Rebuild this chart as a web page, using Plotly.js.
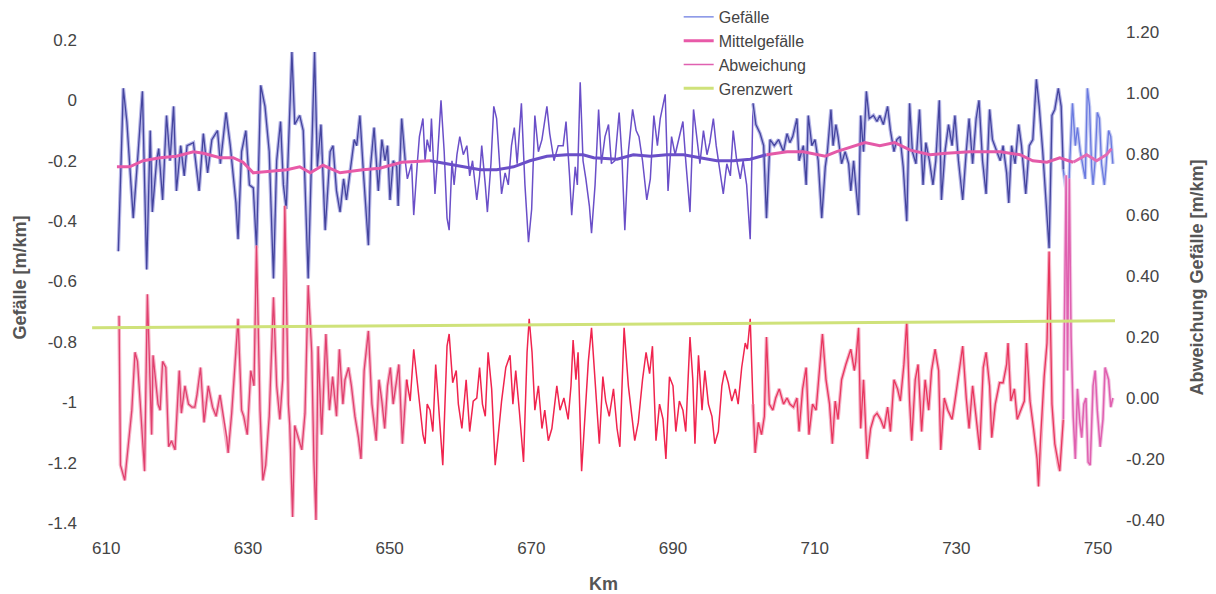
<!DOCTYPE html>
<html>
<head>
<meta charset="utf-8">
<script src="https://cdn.plot.ly/plotly-3.0.1.min.js"></script>
<style>
  html, body { margin: 0; padding: 0; background: #ffffff; }
  #chart { width: 1216px; height: 594px; }
</style>
</head>
<body>
<div id="chart"></div>
<script>
// ---------------- DATA ----------------
const xTicks = [610, 630, 650, 670, 690, 710, 730, 750];
const xTickText = ['610', '630', '650', '670', '690', '710', '730', '750'];
const yLeftTicks = [0.2, 0, -0.2, -0.4, -0.6, -0.8, -1, -1.2, -1.4];
const yLeftText = ['0.2', '0', '-0.2', '-0.4', '-0.6', '-0.8', '-1', '-1.2', '-1.4'];
const yRightTicks = [1.2, 1.0, 0.8, 0.6, 0.4, 0.2, 0.0, -0.2, -0.4];
const yRightText = ['1.20', '1.00', '0.80', '0.60', '0.40', '0.20', '0.00', '-0.20', '-0.40'];

// Gefälle [m/km] (left axis)
const kmGefaelle = [
611.7,612.4,612.9,613.3,613.8,614.5,615.1,615.7,616.2,616.5,617.1,617.4,617.95,618.5,619.0,619.5,619.9,620.5,621.0,621.4,
622.3,623.1,623.7,624.3,624.9,625.7,626.1,626.9,627.5,628.3,628.6,629.1,629.7,630.2,630.75,631.2,631.8,632.4,633.0,633.6,
634.05,634.6,635.0,635.4,635.8,636.2,636.6,637.3,637.8,638.5,639.0,639.4,639.8,640.3,640.9,641.6,642.0,642.5,643.0,643.5,
643.9,644.5,645.0,645.35,645.8,646.3,646.8,647.0,647.3,647.8,648.4,648.9,649.35,649.7,650.05,650.5,651.0,651.2,651.7,652.2,
652.5,653.1,653.4,653.9,654.2,654.7,655.0,655.3,655.7,655.9,656.4,656.7,657.25,657.7,658.1,658.4,658.8,659.1,659.5,659.9,
660.4,660.9,661.3,661.7,662.3,662.7,663.0,663.5,663.8,664.3,664.7,665.1,665.5,665.8,666.3,666.75,667.2,667.6,668.0,668.6,
669.1,669.6,670.05,670.5,671.0,671.5,672.2,672.6,673.2,673.8,674.5,674.9,675.4,675.7,676.2,676.5,676.9,677.3,677.7,678.2,
678.5,679.0,679.5,679.9,680.4,680.9,681.3,681.8,682.4,682.8,683.2,683.7,684.3,684.8,685.2,685.7,686.3,686.8,687.3,687.8,
688.2,688.9,689.3,689.8,690.3,690.8,691.4,691.8,692.4,692.9,693.4,693.8,694.3,694.8,695.2,695.7,696.1,696.4,697.1,697.6,
698.1,698.5,699.0,699.5,699.9,700.4,700.9,701.3,701.7,702.3,702.8,703.2,703.7,704.3,704.9,705.6,706.1,706.5,706.9,707.5,
707.8,708.4,708.8,709.1,709.6,710.05,710.5,711.0,711.5,711.8,712.3,712.6,713.0,713.3,713.8,714.3,714.8,715.1,715.5,715.8,
716.2,716.5,716.9,717.3,717.7,718.3,718.8,719.2,719.7,720.3,720.7,721.2,721.6,722.05,722.5,723.0,723.4,723.8,724.3,724.8,
725.3,725.7,726.2,726.7,727.1,727.6,727.9,728.4,728.9,729.4,729.8,730.3,730.9,731.4,731.8,732.3,732.8,733.2,733.7,734.2,
734.7,735.1,735.7,736.2,736.6,737.1,737.4,737.8,738.3,738.8,739.2,739.8,740.3,740.8,741.3,741.7,742.2,742.7,743.1,743.5,
743.9,744.4,744.8,745.1,745.5,745.8,746.0,746.4,746.8,747.1,747.5,747.9,748.2,748.5,748.8,749.1,749.3,749.6,749.9,750.2,
750.5,750.9,751.1,751.5,751.8,752.1];
const gefaelle = [
-0.50,0.04,-0.07,-0.20,-0.39,-0.17,0.03,-0.56,-0.10,-0.37,-0.20,-0.16,-0.33,-0.05,-0.20,-0.02,-0.30,-0.15,-0.25,-0.15,
-0.14,-0.30,-0.11,-0.24,-0.13,-0.10,-0.21,-0.04,-0.15,-0.34,-0.46,-0.17,-0.10,-0.28,-0.29,-0.49,0.05,-0.02,-0.17,-0.59,
-0.20,-0.07,-0.28,-0.36,-0.08,0.16,-0.08,-0.05,-0.10,-0.59,-0.17,0.16,-0.22,-0.08,-0.43,-0.17,-0.15,-0.30,-0.37,-0.26,
-0.33,-0.21,-0.13,-0.15,-0.05,-0.24,-0.40,-0.48,-0.22,-0.09,-0.30,-0.13,-0.20,-0.15,-0.33,-0.20,-0.22,-0.35,-0.06,-0.20,
-0.26,-0.21,-0.38,-0.21,-0.12,-0.06,-0.20,-0.13,-0.17,-0.06,-0.31,-0.21,0.00,-0.17,-0.39,-0.43,-0.20,-0.28,-0.18,-0.12,
-0.18,-0.15,-0.25,-0.20,-0.33,-0.25,-0.15,-0.28,-0.37,-0.21,-0.02,-0.06,-0.21,-0.31,-0.24,-0.28,-0.15,-0.09,-0.21,-0.01,
-0.28,-0.47,-0.36,-0.05,-0.17,-0.13,-0.02,-0.11,-0.20,-0.15,-0.15,-0.07,-0.25,-0.38,-0.22,-0.28,0.06,-0.20,-0.26,-0.35,
-0.44,-0.28,-0.03,-0.21,-0.12,-0.08,-0.21,-0.20,-0.04,-0.19,-0.43,-0.17,-0.03,-0.10,-0.12,-0.20,-0.33,-0.26,-0.05,-0.15,
-0.06,0.02,-0.30,-0.12,-0.18,-0.13,-0.07,-0.20,-0.37,-0.03,-0.13,-0.21,-0.10,-0.18,-0.14,-0.06,-0.15,-0.20,-0.31,-0.21,
-0.25,-0.10,-0.20,-0.26,-0.20,-0.28,-0.46,-0.01,-0.08,-0.11,-0.15,-0.39,-0.13,-0.15,-0.13,-0.17,-0.11,-0.14,-0.12,-0.06,
-0.20,-0.15,-0.28,-0.05,-0.15,-0.13,-0.20,-0.39,-0.22,-0.17,-0.03,-0.15,-0.08,-0.12,-0.21,-0.17,-0.21,-0.30,-0.20,-0.28,
-0.38,-0.05,-0.17,0.03,-0.06,-0.05,-0.07,-0.05,-0.08,-0.02,-0.10,-0.17,-0.13,-0.12,-0.22,-0.40,-0.01,-0.17,-0.21,-0.03,
-0.28,-0.14,-0.20,-0.28,-0.20,0.00,-0.33,-0.17,-0.08,-0.15,-0.05,-0.20,-0.33,-0.17,-0.06,-0.21,-0.06,0.00,-0.20,-0.31,
-0.03,-0.13,-0.17,-0.20,-0.15,-0.24,-0.34,-0.15,-0.21,-0.08,-0.15,-0.31,-0.15,-0.13,0.07,-0.02,-0.17,-0.35,-0.49,-0.05,
-0.03,0.04,-0.02,-0.23,-0.30,-0.35,-0.21,-0.01,-0.15,-0.09,-0.17,-0.22,-0.26,0.04,-0.02,-0.22,-0.28,-0.20,-0.04,-0.06,
-0.21,-0.28,-0.23,-0.10,-0.12,-0.21];

// Mittelgefälle [m/km] (left axis)
const kmMittel = [611.5,613.3,615.2,617.6,619.9,622.3,623.7,626.05,627.9,629.3,630.75,633.1,635.5,637.3,638.8,640.6,643.0,646.2,648.6,651.7,
655.7,658.1,660.4,662.8,665.1,667.5,669.8,672.2,675.0,677.3,678.8,682.1,684.4,686.8,689.1,691.5,693.8,696.2,698.5,700.9,
703.2,705.1,706.1,708.4,711.5,713.1,715.0,717.1,719.2,721.3,723.5,726.3,728.6,731.9,736.2,739.0,740.8,742.8,744.6,746.5,
748.4,749.8,751.2,751.9];
const mittelgefaelle = [-0.22,-0.22,-0.20,-0.19,-0.185,-0.17,-0.175,-0.19,-0.19,-0.205,-0.24,-0.235,-0.23,-0.22,-0.24,-0.215,-0.24,-0.23,-0.225,-0.205,
-0.20,-0.21,-0.22,-0.23,-0.23,-0.22,-0.20,-0.185,-0.18,-0.18,-0.19,-0.195,-0.18,-0.185,-0.18,-0.18,-0.19,-0.20,-0.20,-0.195,
-0.18,-0.175,-0.17,-0.17,-0.185,-0.17,-0.155,-0.14,-0.15,-0.14,-0.165,-0.18,-0.175,-0.17,-0.17,-0.18,-0.20,-0.205,-0.19,-0.205,
-0.18,-0.20,-0.18,-0.16];

// Abweichung Gefälle [m/km] (right axis)
const kmAbweichung = [
611.8,612.0,612.6,613.1,613.6,614.05,614.4,614.8,615.4,615.8,616.2,616.4,616.6,617.0,617.3,617.6,617.95,618.4,618.8,619.2,
619.7,620.3,620.6,621.1,621.6,622.1,622.5,622.8,623.3,623.8,624.4,625.0,625.5,626.05,626.5,627.0,627.2,627.7,628.2,628.6,
629.1,629.4,629.9,630.4,630.85,631.2,631.7,632.1,632.5,633.0,633.6,634.05,634.5,634.9,635.2,635.7,635.9,636.3,636.6,637.1,
637.6,638.05,638.5,639.0,639.3,639.6,639.9,640.4,641.0,641.5,641.95,642.5,642.9,643.4,643.7,644.2,644.6,645.1,645.6,645.95,
646.4,647.0,647.5,648.1,648.5,648.9,649.3,649.7,650.1,650.5,650.9,651.3,651.8,652.4,652.9,653.4,653.9,654.3,654.7,655.0,
655.3,655.7,656.1,656.5,656.9,657.5,658.1,658.4,658.9,659.4,659.7,660.2,660.8,661.3,661.8,662.3,662.7,663.1,663.5,663.9,
664.4,664.9,665.3,665.8,666.4,667.0,667.4,667.8,668.3,668.9,669.4,669.7,670.1,670.5,671.0,671.5,671.9,672.4,672.9,673.6,
674.05,674.6,675.2,675.6,675.9,676.3,676.6,677.1,677.6,678.05,678.5,679.0,679.6,680.1,680.5,681.0,681.6,682.1,682.5,683.1,
683.7,684.2,684.6,685.1,685.7,686.2,686.7,687.1,687.6,688.1,688.6,689.0,689.5,690.0,690.4,690.9,691.4,691.8,692.4,692.8,
693.1,693.6,694.1,694.5,695.0,695.5,695.9,696.4,696.9,697.3,697.8,698.3,698.8,699.2,699.7,700.2,700.5,700.9,701.3,701.6,
702.05,702.5,702.9,703.2,703.6,704.1,704.5,705.0,705.6,706.1,706.5,707.0,707.5,707.8,708.3,708.8,709.2,709.7,710.2,710.7,
711.1,711.6,712.1,712.5,712.9,713.3,713.8,714.4,715.1,715.6,715.8,716.2,716.5,716.9,717.4,717.9,718.4,718.8,719.3,719.8,
720.3,720.7,721.2,721.7,722.1,722.6,723.0,723.4,723.7,724.2,724.6,725.1,725.6,726.1,726.5,727.0,727.5,727.8,728.3,728.8,
729.4,729.8,730.3,730.9,731.4,731.8,732.3,732.8,733.3,733.8,734.2,734.7,735.0,735.5,736.1,736.6,737.1,737.3,737.7,738.2,
738.6,739.1,739.6,739.9,740.4,740.9,741.4,741.6,741.9,742.4,742.8,743.1,743.5,743.9,744.4,744.6,745.1,745.5,745.7,745.95,
746.2,746.5,746.8,747.1,747.4,747.7,748.0,748.3,748.6,748.9,749.3,749.6,749.9,750.3,750.7,751.0,751.5,751.8,752.1];
const abweichung = [
0.27,-0.22,-0.27,-0.16,-0.04,0.15,0.12,-0.02,-0.24,0.34,-0.02,-0.12,0.14,0.06,-0.02,-0.04,0.12,0.10,-0.16,-0.14,
-0.17,0.09,-0.05,0.04,-0.02,-0.03,-0.03,0.01,0.10,-0.08,0.04,-0.03,-0.06,0.01,-0.06,-0.13,-0.18,-0.05,0.12,0.26,
-0.04,-0.06,-0.12,0.09,0.04,0.50,-0.04,-0.27,-0.22,-0.06,0.33,0.04,-0.07,0.06,0.63,-0.02,-0.09,-0.39,-0.09,-0.13,
-0.17,-0.05,0.37,0.15,-0.20,-0.40,0.17,-0.12,0.21,-0.04,0.07,-0.06,0.16,-0.02,0.06,0.10,0.04,-0.06,-0.13,-0.20,
0.09,0.22,-0.02,-0.14,0.06,-0.01,-0.10,0.04,0.10,-0.02,0.05,0.11,-0.15,0.06,-0.01,0.16,0.05,-0.04,-0.12,-0.15,
-0.02,-0.04,-0.11,0.11,-0.01,-0.22,0.17,0.21,0.05,0.09,-0.02,-0.10,0.06,-0.11,-0.01,0.00,0.10,-0.02,-0.06,0.15,
0.03,-0.22,-0.13,-0.01,0.10,0.14,-0.02,0.09,-0.04,-0.21,0.15,0.26,0.15,-0.04,0.04,-0.10,-0.04,-0.14,-0.10,0.04,
-0.04,0.00,-0.07,0.04,0.19,0.06,0.15,-0.24,-0.05,0.12,0.23,0.06,-0.15,0.07,-0.01,-0.06,0.03,-0.10,-0.16,0.23,
0.04,-0.06,-0.14,-0.08,0.06,0.15,0.08,0.17,-0.14,-0.02,-0.07,-0.20,0.07,0.04,-0.11,-0.01,-0.04,-0.11,0.20,0.06,
-0.15,0.14,-0.04,0.09,-0.02,-0.06,-0.15,-0.11,0.04,0.09,0.05,-0.01,0.03,-0.02,0.10,0.18,0.16,0.26,-0.02,-0.18,
-0.08,-0.12,-0.06,0.20,-0.02,-0.04,0.00,0.03,-0.02,0.00,-0.02,-0.03,0.00,-0.11,0.03,0.10,-0.12,-0.02,-0.04,0.11,
0.21,0.06,-0.02,-0.15,-0.01,-0.07,0.06,0.11,0.16,0.09,0.12,0.23,-0.10,0.06,-0.20,-0.10,-0.06,-0.05,-0.07,-0.10,
-0.03,-0.11,0.06,0.03,-0.01,0.11,0.25,-0.01,-0.14,0.06,0.11,-0.11,0.06,-0.04,0.09,0.16,0.09,-0.17,0.00,-0.04,
-0.07,-0.01,0.07,0.17,0.00,-0.10,0.04,-0.06,-0.17,0.10,0.15,0.04,-0.13,-0.02,0.05,0.05,0.11,0.18,-0.01,0.03,
-0.07,-0.04,-0.01,0.18,-0.01,-0.10,-0.20,-0.29,-0.13,0.07,0.18,0.48,-0.02,-0.15,-0.22,-0.24,-0.07,0.73,0.09,0.72,
0.20,-0.06,-0.20,0.03,-0.07,-0.13,-0.02,0.00,-0.21,-0.22,0.04,0.09,-0.04,-0.16,-0.07,0.10,0.06,-0.03,0.00];

// Grenzwert [m/km] (right axis)
const kmGrenzwert = [608.0, 752.4];
const grenzwert = [0.23, 0.253];

// ---------------- STYLE ----------------
const sectionBreaks = [652.0, 701.2, 745.0];   // where the printed colours change
const style = {
  gef:  {colors: ['#44449e', '#6a4fc8', '#44449e', '#6a7ae0'], halo: ['#b4b4e6', null, '#b4b4e6', '#c4caf2'], width: [1.3, 1.5, 1.3, 1.3], legendPart: 3},
  mit:  {colors: ['#e85aa8', '#6a4fc8', '#e45aa8', '#e46ab4'], width: [3, 3, 3, 3], legendPart: 0},
  abw:  {colors: ['#e0406e', '#f0244e', '#e8365e', '#e060b0'], halo: ['#f6b4c8', null, '#f6b4c8', '#f2c4e2'], width: [1.3, 1.5, 1.3, 1.5], legendPart: 3},
  grz:  {color: '#cfe27a', width: 3}
};

function splitSections(xs, ys, breaks) {
  const out = [];
  let start = 0;
  for (let b = 0; b <= breaks.length; b++) {
    let end = xs.length - 1;
    if (b < breaks.length) {
      end = xs.findIndex(v => v >= breaks[b]);
      if (end < 0) end = xs.length - 1;
    }
    out.push({x: xs.slice(start, end + 1), y: ys.slice(start, end + 1)});
    start = end;
  }
  return out;
}

const traces = [];
function addSeries(name, xs, ys, st, yaxis, rank) {
  const parts = splitSections(xs, ys, sectionBreaks);
  parts.forEach((p, i) => {
    if (st.halo && st.halo[i]) {
      traces.push({
        type: 'scatter', mode: 'lines', x: p.x, y: p.y, yaxis: yaxis,
        line: {color: st.halo[i], width: 3.6}, showlegend: false, hoverinfo: 'skip'
      });
    }
    traces.push({
      type: 'scatter', mode: 'lines', name: name,
      x: p.x, y: p.y, yaxis: yaxis,
      line: {color: st.colors[i], width: st.width[i]},
      showlegend: i === st.legendPart, legendgroup: name, legendrank: rank,
      hoverinfo: 'x+y'
    });
  });
}
addSeries('Gefälle', kmGefaelle, gefaelle, style.gef, 'y', 1);
addSeries('Abweichung', kmAbweichung, abweichung, style.abw, 'y2', 3);
addSeries('Mittelgefälle', kmMittel, mittelgefaelle, style.mit, 'y', 2);
traces.push({
  type: 'scatter', mode: 'lines', name: 'Grenzwert',
  x: kmGrenzwert, y: grenzwert, yaxis: 'y2',
  line: {color: style.grz.color, width: style.grz.width},
  legendrank: 4
});

const fontFam = 'Liberation Sans, Arial, Helvetica, sans-serif';
const layout = {
  width: 1216, height: 594,
  paper_bgcolor: '#ffffff', plot_bgcolor: '#ffffff',
  margin: {l: 92, r: 101, t: 0, b: 71, pad: 0},
  font: {family: fontFam, size: 16, color: '#444444'},
  showlegend: true,
  legend: {
    x: 0.5735, y: 1.0, xanchor: 'left', yanchor: 'top',
    bgcolor: 'rgba(255,255,255,0)', borderwidth: 0,
    font: {family: fontFam, size: 16, color: '#444444'},
    tracegroupgap: 0, itemwidth: 30
  },
  xaxis: {
    range: [607.98, 752.4], tickmode: 'array', tickvals: xTicks, ticktext: xTickText,
    showgrid: false, zeroline: false, showline: false, ticks: '',
    tickfont: {size: 17, color: '#444444'}, ticklabelstandoff: 13,
    title: {text: 'Km', font: {size: 18, color: '#555555', weight: 700}, standoff: 22}
  },
  yaxis: {
    domain: [0, 491 / 523],
    range: [-1.4, 0.2265], tickmode: 'array', tickvals: yLeftTicks, ticktext: yLeftText,
    showgrid: false, zeroline: false, showline: false, ticks: '',
    tickfont: {size: 17, color: '#444444'}, ticklabelstandoff: 14,
    title: {text: 'Gefälle [m/km]', font: {size: 18, color: '#555555', weight: 700}, standoff: 16}
  },
  yaxis2: {
    overlaying: 'y', side: 'right',
    range: [-0.4098, 1.2], tickmode: 'array', tickvals: yRightTicks, ticktext: yRightText,
    showgrid: false, zeroline: false, showline: false, ticks: '',
    tickfont: {size: 17, color: '#444444'}, ticklabelstandoff: 10,
    title: {text: 'Abweichung Gefälle [m/km]', font: {size: 18, color: '#555555', weight: 700}, standoff: 26}
  }
};

Plotly.newPlot('chart', traces, layout, {staticPlot: true, displayModeBar: false});
</script>
</body>
</html>
